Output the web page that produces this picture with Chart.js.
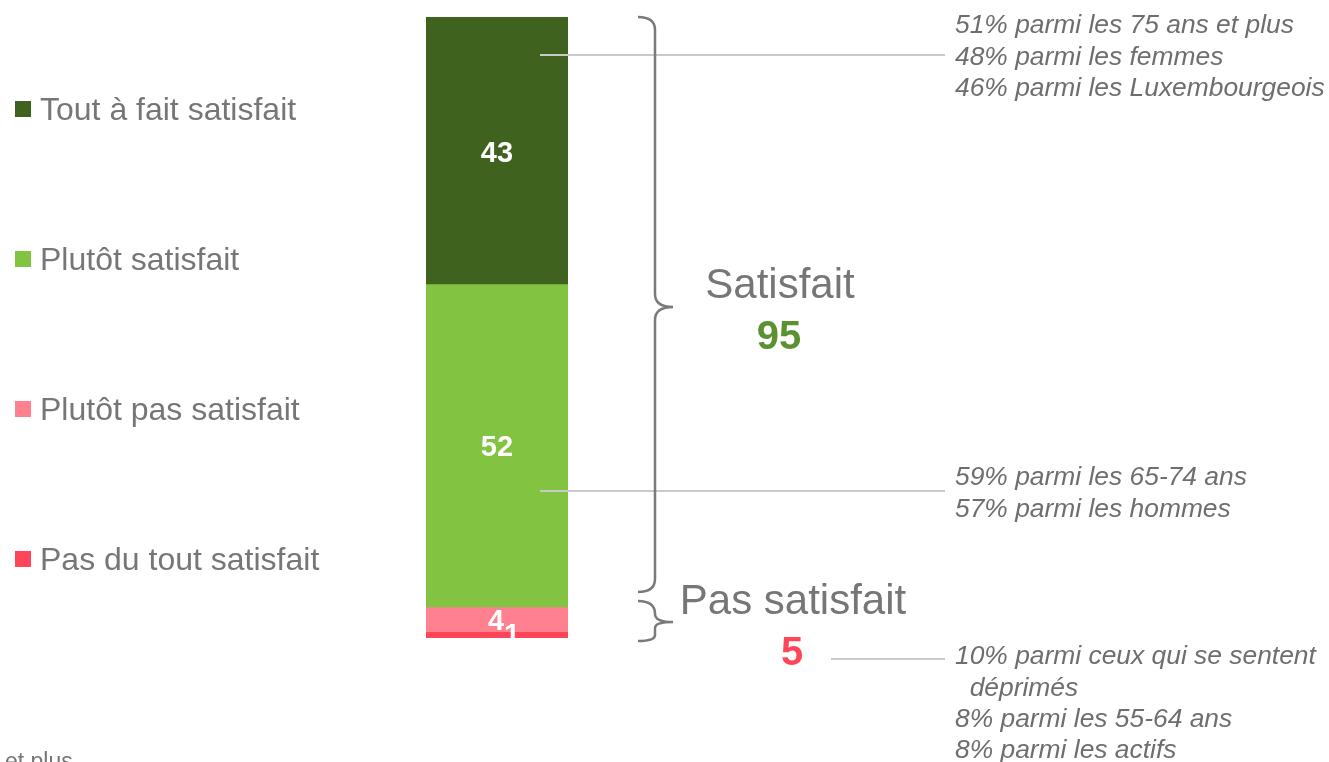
<!DOCTYPE html>
<html>
<head>
<meta charset="utf-8">
<script src="https://cdn.jsdelivr.net/npm/chart.js@4.4.1/dist/chart.umd.min.js"></script>
<style>
  body { margin: 0; background: #fff; }
  canvas { display: block; }
</style>
</head>
<body>
<canvas id="mycanvas" width="1329" height="762"></canvas>
<script>
// data
var categories = ['Satisfaction'];
var seriesLabels = ['Tout à fait satisfait', 'Plutôt satisfait', 'Plutôt pas satisfait', 'Pas du tout satisfait'];
var seriesValues = [43, 52, 4, 1];
var seriesColors = ['#40621F', '#82C341', '#FF808E', '#FF4558'];
var groupLabels = ['Satisfait', 'Pas satisfait'];
var groupTotals = [95, 5];
var groupColors = ['#5B9130', '#FF4558'];
var notesTop = ['51% parmi les 75 ans et plus', '48% parmi les femmes', '46% parmi les Luxembourgeois'];
var notesMid = ['59% parmi les 65-74 ans', '57% parmi les hommes'];
var notesLow = ['10% parmi ceux qui se sentent', '  déprimés', '8% parmi les 55-64 ans', '8% parmi les actifs'];

var grey = '#767676';
var font = '"Liberation Sans", Arial, sans-serif';

var datasets = [];
for (var i = 0; i < seriesValues.length; i++) {
  datasets.push({
    label: seriesLabels[i],
    data: [seriesValues[i]],
    backgroundColor: seriesColors[i],
    borderWidth: 0,
    barPercentage: 1,
    categoryPercentage: 1
  });
}

function brace(ctx, top, tip, bottom) {
  var x0 = 638, xs = 655, xt = 673, r = 13;
  ctx.beginPath();
  ctx.moveTo(x0, top);
  ctx.quadraticCurveTo(xs, top, xs, Math.min(top + r, tip));
  ctx.lineTo(xs, Math.max(tip - r, top + r));
  ctx.quadraticCurveTo(xs, tip, xt, tip);
  ctx.quadraticCurveTo(xs, tip, xs, Math.min(tip + r, bottom - r));
  ctx.lineTo(xs, Math.max(bottom - r, tip + r));
  ctx.quadraticCurveTo(xs, bottom, x0, bottom);
  ctx.stroke();
}

var extras = {
  id: 'extras',
  afterDatasetsDraw: function(chart) {
    var ctx = chart.ctx;
    var y = chart.scales.y;
    ctx.save();

    // values on bars
    ctx.fillStyle = '#fff';
    ctx.font = 'bold 29px ' + font;
    ctx.textAlign = 'center';
    ctx.textBaseline = 'middle';
    var offs = [[0, 3], [0, 3], [-1, 3], [15, 1]];
    chart.data.datasets.forEach(function(ds, i) {
      var el = chart.getDatasetMeta(i).data[0];
      var cy = (el.y + el.base) / 2;
      ctx.fillText(ds.data[0], el.x + offs[i][0], cy + offs[i][1]);
    });

    // legend
    ctx.textAlign = 'left';
    ctx.font = '32px ' + font;
    chart.data.datasets.forEach(function(ds, i) {
      var ly = 109 + i * 150;
      ctx.fillStyle = ds.backgroundColor;
      ctx.fillRect(15, ly - 8, 16, 16);
      ctx.fillStyle = grey;
      ctx.fillText(ds.label, 40, ly + 2);
    });

    // connector lines
    ctx.strokeStyle = '#cacaca';
    ctx.lineWidth = 2;
    ctx.beginPath();
    ctx.moveTo(540, 55); ctx.lineTo(945, 55);
    ctx.moveTo(540, 491); ctx.lineTo(945, 491);
    ctx.moveTo(831, 659); ctx.lineTo(945, 659);
    ctx.stroke();

    // braces
    ctx.strokeStyle = '#7a7a7a';
    ctx.lineWidth = 2.5;
    var cut = y.getPixelForValue(groupTotals[0]);
    brace(ctx, y.getPixelForValue(0), 307, cut - 15);
    brace(ctx, cut - 6, 622, y.getPixelForValue(100) + 3);

    // group labels
    ctx.textAlign = 'center';
    ctx.font = '42px ' + font;
    ctx.fillStyle = grey;
    ctx.fillText(groupLabels[0], 780, 286);
    ctx.fillText(groupLabels[1], 793, 602);
    ctx.font = 'bold 40px ' + font;
    ctx.fillStyle = groupColors[0];
    ctx.fillText(groupTotals[0], 779, 338);
    ctx.fillStyle = groupColors[1];
    ctx.fillText(groupTotals[1], 792, 654);

    // notes
    ctx.textAlign = 'left';
    ctx.font = 'italic 26.4px ' + font;
    ctx.fillStyle = '#6e6e6e';
    notesTop.forEach(function(t, i) { ctx.fillText(t, 955, 26 + i * 31.5); });
    notesMid.forEach(function(t, i) { ctx.fillText(t, 955, 478 + i * 31.5); });
    notesLow.forEach(function(t, i) { ctx.fillText(t, 955, 657 + i * 31.3); });

    // cut-off footnote
    ctx.font = '23px ' + font;
    ctx.fillStyle = grey;
    ctx.textBaseline = 'alphabetic';
    ctx.fillText('et plus', 5, 769);

    ctx.restore();
  }
};

var ctx = document.getElementById('mycanvas');
var barGraph = new Chart(ctx, {
  type: 'bar',
  data: { labels: categories, datasets: datasets },
  options: {
    responsive: false,
    animation: false,
    layout: { padding: { left: 426, right: 761, top: 17, bottom: 124 } },
    plugins: { legend: { display: false }, tooltip: { enabled: false } },
    scales: {
      x: { stacked: true, display: false },
      y: { stacked: true, display: false, min: 0, max: 100, reverse: true }
    }
  },
  plugins: [extras]
});
</script>
</body>
</html>
